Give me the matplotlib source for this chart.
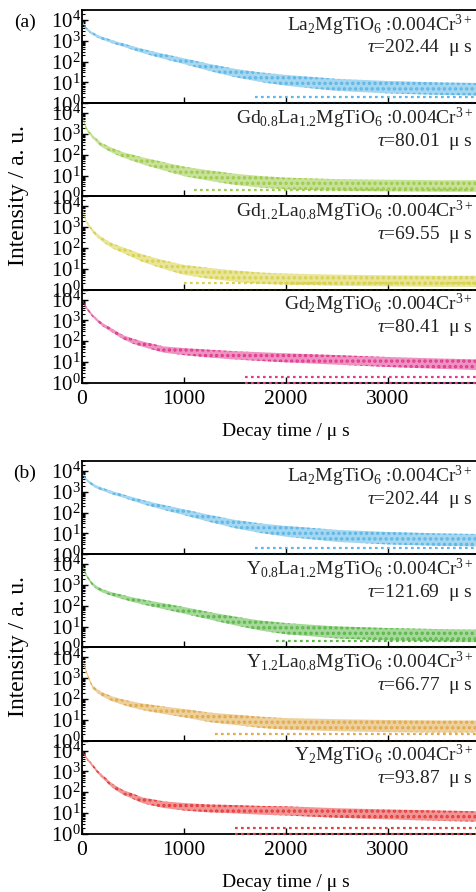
import numpy as np
import matplotlib
matplotlib.use("Agg")
import matplotlib.pyplot as plt
import matplotlib.transforms as mtransforms
from matplotlib.ticker import LogLocator, FixedLocator, NullFormatter

plt.rcParams['font.family'] = ['Liberation Serif', 'DejaVu Serif']
plt.rcParams['mathtext.fontset'] = 'custom'
plt.rcParams['mathtext.rm'] = 'Liberation Serif'
plt.rcParams['mathtext.it'] = 'Liberation Serif:italic'
plt.rcParams['mathtext.bf'] = 'Liberation Serif:bold'
plt.rcParams['hatch.linewidth'] = 1.6

# ---------------- data ----------------
# decay time knots (microseconds)
t_us = [0, 25, 50, 100, 150, 200, 300, 400, 500, 600, 800, 1000,
        1250, 1500, 1750, 2000, 2500, 3000, 3500, 4000]

# log10(intensity) centre of the scatter cloud and its half-width (decades)
la2_log = [4.0, 3.7, 3.55, 3.35, 3.22, 3.12, 2.95, 2.8, 2.65, 2.5, 2.25, 2.02,
           1.72, 1.45, 1.25, 1.1, 0.88, 0.77, 0.7, 0.66]
la2_half = [0.06, 0.06, 0.06, 0.07, 0.07, 0.07, 0.08, 0.08, 0.09, 0.1, 0.12, 0.14,
            0.17, 0.2, 0.23, 0.26, 0.29, 0.3, 0.3, 0.3]

gd08_log = [4.0, 3.5, 3.2, 2.9, 2.65, 2.45, 2.2, 2.0, 1.85, 1.7, 1.45, 1.2,
            1.0, 0.82, 0.7, 0.62, 0.55, 0.52, 0.5, 0.5]
gd08_half = [0.06, 0.07, 0.07, 0.08, 0.09, 0.1, 0.12, 0.13, 0.15, 0.17, 0.2, 0.23,
             0.25, 0.27, 0.28, 0.28, 0.28, 0.28, 0.28, 0.28]

gd12_log = [4.0, 3.5, 3.2, 2.85, 2.6, 2.4, 2.1, 1.9, 1.7, 1.5, 1.2, 0.95,
            0.78, 0.65, 0.55, 0.5, 0.45, 0.42, 0.4, 0.4]
gd12_half = [0.06, 0.07, 0.07, 0.08, 0.09, 0.1, 0.12, 0.14, 0.16, 0.18, 0.21, 0.24,
             0.26, 0.27, 0.27, 0.27, 0.27, 0.27, 0.27, 0.27]

gd2_log = [4.0, 3.75, 3.55, 3.25, 3.0, 2.8, 2.5, 2.2, 2.0, 1.85, 1.6, 1.5,
           1.4, 1.32, 1.26, 1.2, 1.1, 1.0, 0.92, 0.85]
gd2_half = [0.05, 0.06, 0.06, 0.07, 0.07, 0.08, 0.09, 0.1, 0.12, 0.13, 0.15, 0.17,
            0.19, 0.2, 0.21, 0.22, 0.23, 0.24, 0.25, 0.26]

y08_log = [4.0, 3.65, 3.4, 3.05, 2.85, 2.72, 2.55, 2.42, 2.29, 2.18, 1.98, 1.78,
           1.52, 1.27, 1.05, 0.9, 0.72, 0.63, 0.58, 0.55]
y08_half = [0.06, 0.06, 0.07, 0.07, 0.08, 0.08, 0.09, 0.1, 0.11, 0.12, 0.14, 0.16,
            0.18, 0.21, 0.24, 0.27, 0.29, 0.3, 0.3, 0.3]

y12_log = [4.0, 3.6, 3.2, 2.6, 2.38, 2.22, 2.0, 1.85, 1.72, 1.62, 1.46, 1.32,
           1.12, 1.0, 0.88, 0.8, 0.74, 0.7, 0.68, 0.68]
y12_half = [0.06, 0.07, 0.07, 0.08, 0.09, 0.1, 0.12, 0.13, 0.15, 0.16, 0.18, 0.2,
            0.23, 0.25, 0.27, 0.28, 0.29, 0.29, 0.29, 0.29]

y2_log = [4.0, 3.8, 3.6, 3.3, 3.0, 2.75, 2.3, 2.0, 1.8, 1.6, 1.4, 1.3,
          1.22, 1.18, 1.13, 1.1, 1.0, 0.93, 0.87, 0.82]
y2_half = [0.05, 0.06, 0.06, 0.07, 0.07, 0.08, 0.1, 0.11, 0.13, 0.14, 0.16, 0.18,
           0.19, 0.2, 0.21, 0.22, 0.23, 0.24, 0.25, 0.25]

# time from which the single-count rows (1 and 2 counts) appear
floor_counts = [1, 2]
la2_floor = 1700
gd08_floor = 1100
gd12_floor = 1000
gd2_floor = 1600
y08_floor = 1900
y12_floor = 1300
y2_floor = 1500

labels_a = [r"La$_2$MgTiO$_6$ :0.004Cr$^{3+}$",
            r"Gd$_{0.8}$La$_{1.2}$MgTiO$_6$ :0.004Cr$^{3+}$",
            r"Gd$_{1.2}$La$_{0.8}$MgTiO$_6$ :0.004Cr$^{3+}$",
            r"Gd$_2$MgTiO$_6$ :0.004Cr$^{3+}$"]
taus_a = ["202.44", "80.01", "69.55", "80.41"]
labels_b = [r"La$_2$MgTiO$_6$ :0.004Cr$^{3+}$",
            r"Y$_{0.8}$La$_{1.2}$MgTiO$_6$ :0.004Cr$^{3+}$",
            r"Y$_{1.2}$La$_{0.8}$MgTiO$_6$ :0.004Cr$^{3+}$",
            r"Y$_2$MgTiO$_6$ :0.004Cr$^{3+}$"]
taus_b = ["202.44", "121.69", "66.77", "93.87"]

x_ticks = [0, 1000, 2000, 3000, 4000]
x_ticklabels = ["0", "1000", "2000", "3000", ""]

series_a = [(la2_log, la2_half, la2_floor, "#5cb6e6"),
            (gd08_log, gd08_half, gd08_floor, "#9dcb4a"),
            (gd12_log, gd12_half, gd12_floor, "#d8d24c"),
            (gd2_log, gd2_half, gd2_floor, "#e03a8e")]
series_b = [(la2_log, la2_half, la2_floor, "#5cb6e6"),
            (y08_log, y08_half, y08_floor, "#5bb848"),
            (y12_log, y12_half, y12_floor, "#e0aa4c"),
            (y2_log, y2_half, y2_floor, "#e63c3c")]

# ---------------- figure ----------------
W, H = 476, 892
fig = plt.figure(figsize=(W / 100, H / 100), dpi=100)

AX_LEFT = 82
AX_WIDTH = 408
SUB_H = 93.2
FS = 14


def add_ax(top):
    return fig.add_axes([AX_LEFT / W, 1 - (top + SUB_H) / H, AX_WIDTH / W, SUB_H / H])


def draw_panel(top0, series, labels, taus, letter, ylab_y):
    t = np.array(t_us, dtype=float)
    axes = []
    for i, (clog, chalf, tfloor, col) in enumerate(series):
        ax = add_ax(top0 + i * SUB_H)
        axes.append(ax)
        c = np.array(clog)
        h = np.array(chalf)
        ax.fill_between(t, 10 ** (c - h), 10 ** (c + h), facecolor=col, alpha=0.55,
                        lw=0, zorder=2)
        ax.fill_between(t, 10 ** (c - h), 10 ** (c + h), facecolor='none',
                        edgecolor=col, hatch='...', lw=0, zorder=2)
        for fc in floor_counts:
            ax.plot([tfloor, x_ticks[-1]], [fc, fc], color=col, lw=1.6,
                    ls=(0, (1.2, 1.5)), zorder=3, clip_on=False)
        ax.set_yscale('log')
        ax.set_xlim(0, 4000)
        ax.set_ylim(1, 10 ** 4.48)
        ax.yaxis.set_major_locator(FixedLocator([1, 10, 100, 1000, 10000]))
        ax.yaxis.set_minor_locator(LogLocator(base=10, subs=np.arange(2, 10) * 1.0, numticks=20))
        ax.yaxis.set_minor_formatter(NullFormatter())
        ax.set_xticks(x_ticks)
        ax.set_xticklabels(x_ticklabels)
        ax.tick_params(axis='both', which='both', direction='in',
                       top=False, right=False)
        ax.tick_params(axis='y', which='major', length=4, width=1.0, pad=1,
                       labelsize=15)
        ax.tick_params(axis='y', which='minor', length=2.5, width=0.8)
        ax.tick_params(axis='x', which='major', length=4, width=1.0, pad=5,
                       labelsize=15.5)
        for sp in ax.spines.values():
            sp.set_linewidth(1.3)
        ax.spines['right'].set_visible(False)
        if i < 3:
            ax.tick_params(axis='x', labelbottom=False)
        trans = mtransforms.blended_transform_factory(fig.transFigure, ax.transAxes)
        ax.text(473 / W, 1 - 15 / SUB_H, labels[i], transform=trans, ha='right',
                va='center', fontsize=FS, color='#222222', zorder=5)
        ax.text(473 / W, 1 - 38 / SUB_H, r"$\tau$=" + taus[i] + "  μ s",
                transform=trans, ha='right', va='center', fontsize=FS,
                color='#222222', zorder=5)
        ax.set_facecolor('none')
    axes[-1].set_xlabel("Decay time / μ s", fontsize=FS, labelpad=10)
    fig.text(25 / W, 1 - (top0 + 12) / H, "(" + letter + ")", fontsize=FS,
             ha='center', va='center')
    fig.text(19 / W, 1 - ylab_y / H, "Intensity / a. u.", fontsize=17,
             rotation=90, ha='center', va='center')


draw_panel(10, series_a, labels_a, taus_a, "a", 196)
draw_panel(461, series_b, labels_b, taus_b, "b", 647)

fig.savefig("out.png", dpi=100)
